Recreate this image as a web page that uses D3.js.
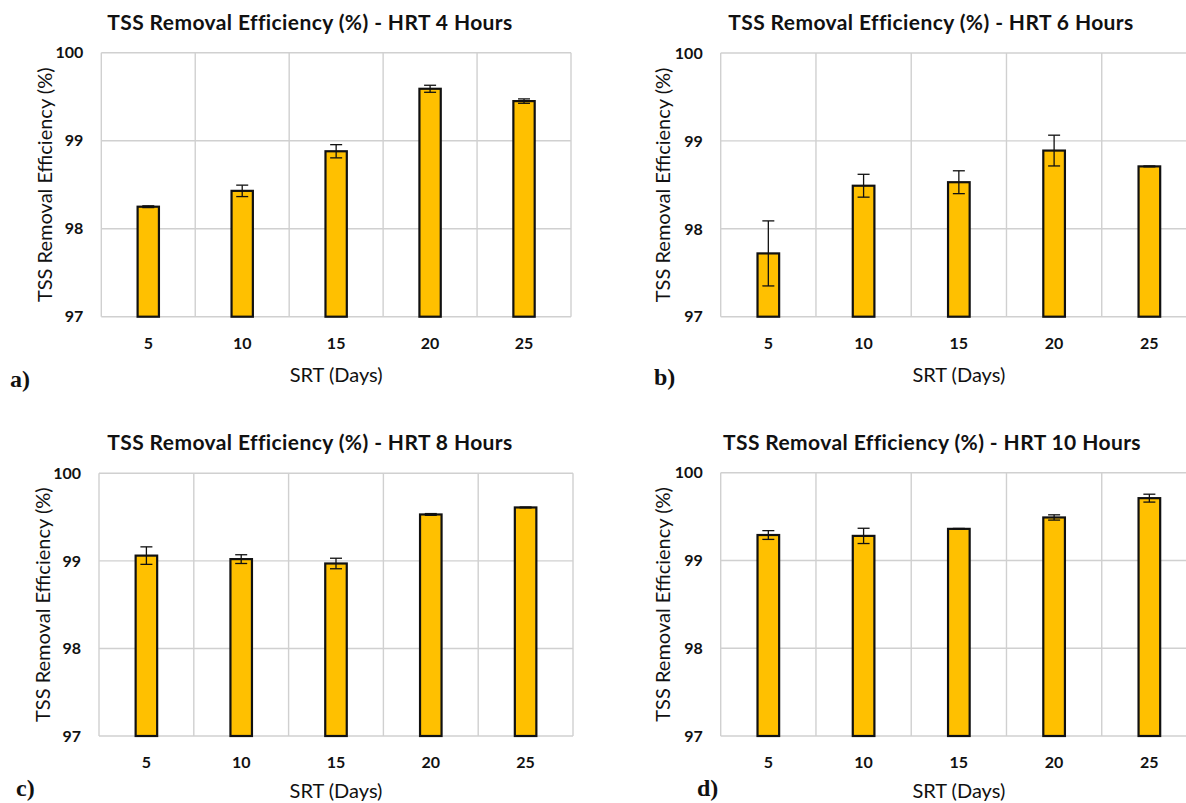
<!DOCTYPE html>
<html>
<head>
<meta charset="utf-8">
<script src="https://cdn.jsdelivr.net/npm/d3@7"></script>
<style>
  html, body { margin: 0; padding: 0; background: #fff; }
  svg { display: block; }
</style>
</head>
<body>
<svg id="chart" width="1186" height="803"></svg>
<script>
// ---- data ----
const srtDays = [5, 10, 15, 20, 25];
const yTicks = [97, 98, 99, 100];

const hrt4 = [98.25, 98.43, 98.88, 99.59, 99.45];
const hrt4Err = [0.01, 0.065, 0.075, 0.04, 0.025];

const hrt6 = [97.72, 98.49, 98.53, 98.89, 98.71];
const hrt6Err = [0.37, 0.13, 0.13, 0.175, 0.005];

const hrt8 = [99.06, 99.02, 98.97, 99.53, 99.61];
const hrt8Err = [0.10, 0.05, 0.06, 0.01, 0.005];

const hrt10 = [99.29, 99.28, 99.36, 99.49, 99.71];
const hrt10Err = [0.05, 0.087, 0.005, 0.03, 0.045];

const titles = [
  "TSS Removal Efficiency (%) - HRT 4 Hours",
  "TSS Removal Efficiency (%) - HRT 6 Hours",
  "TSS Removal Efficiency (%) - HRT 8 Hours",
  "TSS Removal Efficiency (%) - HRT 10 Hours"
];
const letters = ["a)", "b)", "c)", "d)"];
const yAxisTitle = "TSS Removal Efficiency (%)";
const xAxisTitle = "SRT (Days)";

// ---- layout (positions only) ----
const layout = [
  { left: 101.3, right: 571, top: 52.7, bottom: 316.7, titleX: 310, titleY: 22, yTitleX: 45, letterX: 10, letterY: 378, xTitleY: 375 },
  { left: 720.7, right: 1197, top: 53, bottom: 316.7, titleX: 931, titleY: 22, yTitleX: 663, letterX: 654, letterY: 376, xTitleY: 375 },
  { left: 99, right: 573, top: 473.3, bottom: 736, titleX: 310, titleY: 442, yTitleX: 42.5, letterX: 16, letterY: 787, xTitleY: 791 },
  { left: 720.7, right: 1197, top: 472.7, bottom: 736, titleX: 932, titleY: 442, yTitleX: 663, letterX: 697, letterY: 787, xTitleY: 791 }
];

const panels = [
  { values: hrt4, errs: hrt4Err },
  { values: hrt6, errs: hrt6Err },
  { values: hrt8, errs: hrt8Err },
  { values: hrt10, errs: hrt10Err }
];

const svg = d3.select("#chart");
const FONT = "Lato, 'Open Sans', 'DejaVu Sans', sans-serif";
const gridColor = "#d0d0d0";
const barColor = "#FFC000";

panels.forEach((p, i) => {
  const L = layout[i];
  const g = svg.append("g");

  const x = d3.scaleBand().domain(srtDays).range([L.left, L.right]).padding(0);
  const y = d3.scaleLinear().domain([97, 100]).range([L.bottom, L.top]);

  // horizontal gridlines
  g.selectAll("line.hgrid").data(yTicks).enter().append("line")
    .attr("x1", L.left).attr("x2", L.right)
    .attr("y1", d => y(d)).attr("y2", d => y(d))
    .attr("stroke", gridColor).attr("stroke-width", 1.4);

  // vertical gridlines at band boundaries
  const bounds = srtDays.map(d => x(d)).concat([x(srtDays[srtDays.length - 1]) + x.bandwidth()]);
  g.selectAll("line.vgrid").data(bounds).enter().append("line")
    .attr("x1", d => d).attr("x2", d => d)
    .attr("y1", L.top).attr("y2", L.bottom)
    .attr("stroke", gridColor).attr("stroke-width", 1.4);

  // y tick labels
  g.selectAll("text.ytick").data(yTicks).enter().append("text")
    .attr("x", L.left - 18).attr("y", d => y(d)).attr("dy", "0.36em")
    .attr("text-anchor", "end")
    .attr("font-family", FONT).attr("font-weight", "bold").attr("font-size", 16)
    .attr("fill", "#111")
    .text(d => d);

  // x tick labels
  g.selectAll("text.xtick").data(srtDays).enter().append("text")
    .attr("x", d => x(d) + x.bandwidth() / 2)
    .attr("y", L.bottom + 26.5).attr("dy", "0.36em")
    .attr("text-anchor", "middle")
    .attr("font-family", FONT).attr("font-weight", "bold").attr("font-size", 16)
    .attr("fill", "#111")
    .text(d => d);

  // bars
  const bw = x.bandwidth() * 0.227;
  g.selectAll("rect.bar").data(p.values).enter().append("rect")
    .attr("x", (d, k) => x(srtDays[k]) + x.bandwidth() / 2 - bw / 2)
    .attr("y", d => y(d))
    .attr("width", bw)
    .attr("height", d => L.bottom - y(d))
    .attr("fill", barColor)
    .attr("stroke", "#111").attr("stroke-width", 2.2);

  // error bars
  const cap = 6;
  p.values.forEach((v, k) => {
    const cx = x(srtDays[k]) + x.bandwidth() / 2;
    const e = p.errs[k];
    const y1 = y(v + e), y2 = y(v - e);
    g.append("line").attr("x1", cx).attr("x2", cx).attr("y1", y1).attr("y2", y2)
      .attr("stroke", "#111").attr("stroke-width", 1.3);
    [y1, y2].forEach(yy => {
      g.append("line").attr("x1", cx - cap).attr("x2", cx + cap).attr("y1", yy).attr("y2", yy)
        .attr("stroke", "#111").attr("stroke-width", 1.3);
    });
  });

  // title
  g.append("text")
    .attr("x", L.titleX).attr("y", L.titleY).attr("dy", "0.36em")
    .attr("text-anchor", "middle")
    .attr("font-family", FONT).attr("font-weight", "bold").attr("font-size", 21)
    .attr("letter-spacing", 0.4)
    .attr("fill", "#111")
    .text(titles[i]);

  // y axis title
  g.append("text")
    .attr("transform", `translate(${L.yTitleX},${(L.top + L.bottom) / 2}) rotate(-90)`)
    .attr("dy", "0.36em")
    .attr("text-anchor", "middle")
    .attr("font-family", FONT).attr("font-size", 20)
    .attr("fill", "#111")
    .text(yAxisTitle);

  // x axis title
  g.append("text")
    .attr("x", (L.left + L.right) / 2).attr("y", L.xTitleY).attr("dy", "0.36em")
    .attr("text-anchor", "middle")
    .attr("font-family", FONT).attr("font-size", 20)
    .attr("fill", "#111")
    .text(xAxisTitle);

  // panel letter
  g.append("text")
    .attr("x", L.letterX).attr("y", L.letterY).attr("dy", "0.36em")
    .attr("font-family", "'Liberation Serif', 'DejaVu Serif', serif").attr("font-weight", "bold").attr("font-size", 24)
    .attr("fill", "#111")
    .text(letters[i]);
});
</script>
</body>
</html>
